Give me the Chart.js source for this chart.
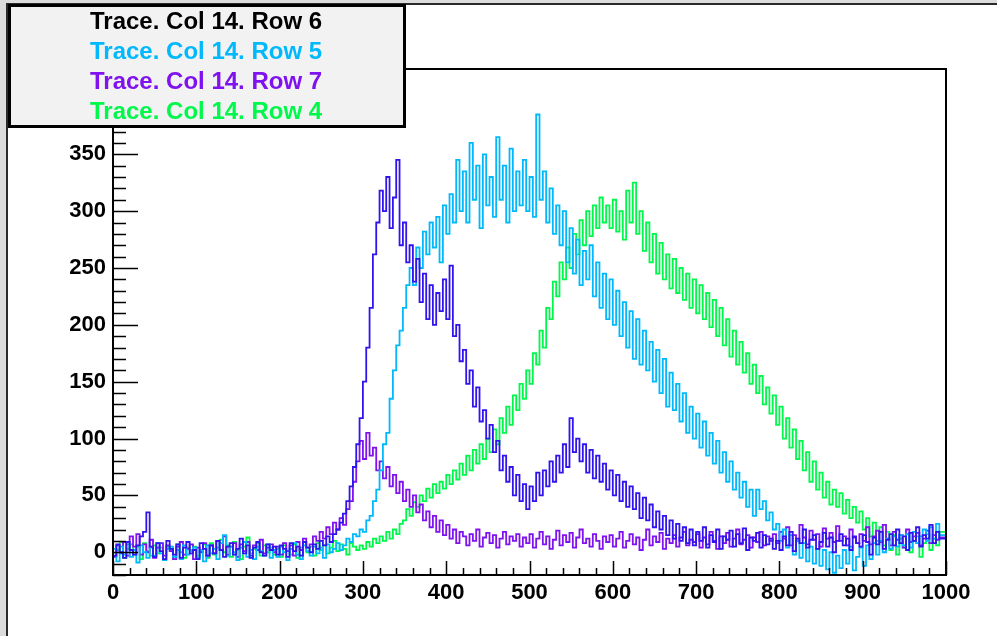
<!DOCTYPE html>
<html>
<head>
<meta charset="utf-8">
<script src="https://cdn.jsdelivr.net/npm/chart.js@4.4.0/dist/chart.umd.min.js"></script>
<style>
  html, body { margin: 0; padding: 0; background: #fff; }
  canvas { display: block; }
</style>
</head>
<body>
<canvas id="c" width="997" height="636"></canvas>
<script>
// Pulse traces, column 14, rows 4-7. Bins are 4 samples wide; values are counts.
const traceLabels = ['Trace. Col 14. Row 6', 'Trace. Col 14. Row 5', 'Trace. Col 14. Row 7', 'Trace. Col 14. Row 4'];
const lineColors = ['#3014ee', '#00b9fc', '#7f12ee', '#00f84a'];
const legendTextColors = ['#000000', '#00b9fc', '#7f12ee', '#00f84a'];

// bin low edges: 0, 4, 8, ... 996
const binWidth = 4;
const bins = Array.from({ length: 250 }, (_, i) => i * binWidth);

const row6 = [
  4,-3,7,0,-5,9,2,-2,6,14,18,35,5,-4,8,1,-6,10,3,-2,7,-5,4,9,-1,
  2,-6,8,3,-3,6,-1,10,2,-4,5,8,-2,3,12,-1,6,-5,4,9,0,-3,7,2,5,
  -2,6,3,-4,8,1,5,-3,9,4,0,7,3,10,6,14,9,16,20,26,34,45,58,75,95,
  118,150,180,215,262,290,318,300,330,285,312,345,270,290,255,270,238,258,220,245,205,235,200,228,212,
  240,205,252,190,200,168,178,148,160,128,145,115,125,100,112,88,98,72,85,62,75,50,68,45,60,
  38,58,45,70,50,72,58,80,62,85,70,95,75,118,88,100,80,95,70,90,65,85,62,78,55,
  72,50,68,45,62,40,58,38,52,30,48,28,42,22,36,20,32,15,28,12,25,10,22,8,20,
  6,18,10,22,4,15,9,20,3,14,11,19,5,16,8,21,2,13,10,17,4,15,7,12,3,
  10,2,14,6,18,1,12,8,20,4,11,15,3,9,17,5,13,0,10,16,6,12,2,14,8,
  5,15,9,-2,13,7,18,3,11,16,6,20,8,14,2,17,10,22,5,15,12,24,8,18,12
];
const row5 = [
  -6,3,-8,5,-2,7,-4,2,-9,6,0,-5,4,-3,8,-1,-7,3,5,-4,2,-6,6,-2,1,
  4,-5,2,-8,6,-1,3,-6,8,15,-3,5,0,-7,4,9,-4,2,-6,5,1,-3,7,-5,2,
  -4,5,0,-7,3,8,-2,-6,6,1,-3,5,-1,4,-5,7,0,3,8,2,6,12,9,16,14,
  20,18,28,32,45,55,72,95,105,135,160,182,195,215,235,250,235,268,250,282,262,290,268,295,255,
  305,280,315,290,345,300,335,290,360,310,340,285,350,305,330,295,365,310,340,290,355,300,335,305,345,
  300,330,295,385,310,335,290,320,280,305,270,300,255,285,245,275,235,265,240,270,225,255,215,245,205,
  240,200,230,190,220,180,212,170,205,165,195,160,185,150,178,140,170,128,158,125,148,115,140,105,128,
  100,122,92,115,85,105,78,98,70,88,62,80,55,70,48,62,40,55,32,55,38,45,28,35,20,
  25,10,20,4,15,-2,10,-5,8,-8,5,-10,3,-12,2,-15,0,-18,-3,-14,2,-10,5,-16,-4,
  4,-12,6,-6,8,-2,10,0,12,3,14,5,15,6,16,4,18,8,14,20,10,22,12,25,15
];
const row7 = [
  3,-4,6,-1,9,-3,14,5,16,-2,7,0,11,-5,4,8,-3,6,1,-6,5,9,-2,3,7,
  -6,4,0,8,-3,6,-1,10,2,14,-2,5,8,-4,7,1,9,-3,6,2,11,-1,4,7,0,
  5,-2,8,1,6,-3,9,2,12,4,7,14,10,18,12,22,16,26,20,30,24,38,45,62,80,
  98,82,105,85,92,72,80,65,75,58,68,52,62,45,55,40,50,35,42,28,36,22,32,18,28,
  15,24,12,20,8,18,14,6,16,10,20,5,13,17,8,15,4,12,18,7,14,10,16,5,13,
  8,16,4,12,18,7,14,3,11,19,6,15,9,17,4,13,20,8,12,5,16,10,3,14,9,
  15,5,12,18,4,10,16,7,13,2,11,20,6,14,9,17,3,12,8,15,5,13,18,6,11,
  9,16,4,13,7,18,10,3,14,8,17,5,12,20,7,11,15,4,13,9,18,6,14,10,16,
  8,18,12,22,6,15,10,24,13,7,19,11,16,5,21,12,17,9,23,10,14,6,20,13,8,
  16,10,22,7,14,19,9,24,12,6,18,11,15,4,20,9,14,17,6,12,19,8,15,11,13
];
const row4 = [
  6,-4,2,9,-5,3,7,-2,5,-6,8,1,-3,6,-1,4,-7,5,2,-4,7,0,-5,4,2,
  5,-3,1,7,-5,8,-2,4,11,0,6,-4,9,2,-6,5,13,-1,3,8,-3,6,0,4,-2,
  3,-4,6,1,-2,7,-5,4,9,0,5,-3,8,2,6,-1,4,10,1,7,3,-2,8,5,2,
  6,3,9,5,12,8,14,10,18,12,20,16,25,28,38,32,44,40,50,45,56,48,60,52,62,
  56,68,60,72,64,78,68,85,72,90,78,95,82,100,88,108,95,118,105,128,112,138,125,148,135,
  160,148,175,165,195,180,215,205,238,225,255,240,268,250,280,262,292,270,300,278,305,285,312,290,305,
  285,310,282,300,275,318,290,325,280,300,265,290,255,280,245,272,240,262,232,258,228,250,222,245,215,
  240,210,235,205,228,198,222,190,215,182,205,172,195,165,185,158,175,148,165,140,155,130,145,122,138,
  112,128,100,118,92,108,82,98,72,88,62,80,55,70,48,62,42,55,40,52,34,46,30,40,26,
  36,20,30,14,26,10,22,6,18,2,15,-2,12,4,16,0,10,14,-4,8,16,2,12,6,18
];
const traceValues = [row6, row5, row7, row4];

// axis ranges and labelled tick steps
const xRange = [0, 1000];
const yRange = [-20, 425];
const xLabelStep = 100, xMinorStep = 20;
const yLabelStep = 50, yMinorStep = 10;

const FONT = '"Liberation Sans", Arial, sans-serif';

function histogramPoints(values) {
  const pts = values.map((v, i) => ({ x: bins[i], y: v }));
  // close the last bin at its upper edge
  pts.push({ x: bins[bins.length - 1] + binWidth, y: values[values.length - 1] });
  return pts;
}

const rootStyle = {
  id: 'rootStyle',
  beforeDraw(chart) {
    const ctx = chart.ctx, W = chart.width, H = chart.height;
    ctx.save();
    ctx.fillStyle = '#ffffff';
    ctx.fillRect(0, 0, W, H);
    ctx.fillStyle = '#dcdcdc';
    ctx.fillRect(0, 0, 6, H);
    ctx.fillRect(0, 0, W, 3);
    ctx.fillStyle = '#2a2a2a';
    ctx.fillRect(6, 3, 2, H - 3);
    ctx.fillRect(6, 3, W - 6, 2);
    ctx.restore();
  },
  afterDatasetsDraw(chart) {
    const { ctx, chartArea: a, scales: { x, y } } = chart;
    ctx.save();
    ctx.strokeStyle = '#000';
    ctx.lineWidth = 1.5;
    ctx.beginPath();
    y.ticks.forEach(t => {
      const v = t.value;
      if (Math.abs(v % yMinorStep) > 1e-6) return;
      const py = Math.round(y.getPixelForValue(v)) + 0.5;
      const len = Math.abs(v % yLabelStep) < 1e-6 ? 25 : 13;
      ctx.moveTo(a.left, py);
      ctx.lineTo(a.left + len, py);
    });
    x.ticks.forEach(t => {
      const v = t.value;
      if (Math.abs(v % xMinorStep) > 1e-6) return;
      const px = Math.round(x.getPixelForValue(v)) + 0.5;
      const len = Math.abs(v % xLabelStep) < 1e-6 ? 14 : 7;
      ctx.moveTo(px, a.bottom);
      ctx.lineTo(px, a.bottom - len);
    });
    ctx.stroke();
    ctx.lineWidth = 2;
    ctx.strokeRect(a.left, a.top, a.right - a.left, a.bottom - a.top);
    ctx.restore();
  },
  afterDraw(chart) {
    const ctx = chart.ctx;
    ctx.save();
    ctx.fillStyle = '#f2f2f2';
    ctx.fillRect(9.5, 5.5, 395, 121);
    ctx.strokeStyle = '#000';
    ctx.lineWidth = 3;
    ctx.strokeRect(9.5, 5.5, 395, 121);
    ctx.font = 'bold 24px ' + FONT;
    ctx.textAlign = 'left';
    ctx.textBaseline = 'alphabetic';
    chart.data.datasets.forEach((ds, i) => {
      ctx.fillStyle = legendTextColors[i];
      ctx.fillText(ds.label, 90, 29 + i * 30);
    });
    ctx.restore();
  }
};

new Chart(document.getElementById('c'), {
  type: 'line',
  data: {
    datasets: traceValues.map((vals, i) => ({
      label: traceLabels[i],
      data: histogramPoints(vals),
      borderColor: lineColors[i],
      backgroundColor: lineColors[i],
      borderWidth: 1.8,
      pointRadius: 0,
      stepped: 'after',
      fill: false
    }))
  },
  options: {
    responsive: false,
    animation: false,
    devicePixelRatio: 1,
    events: [],
    layout: { padding: { top: 69, right: 51, left: 0, bottom: 0 } },
    plugins: { legend: { display: false }, tooltip: { enabled: false } },
    scales: {
      x: {
        type: 'linear',
        min: xRange[0], max: xRange[1],
        grid: { display: false, drawTicks: false },
        border: { display: false },
        ticks: {
          stepSize: xMinorStep, autoSkip: false, maxRotation: 0, padding: 5,
          color: '#000', font: { family: FONT, weight: 'bold', size: 22 },
          callback: v => (v % xLabelStep === 0 ? String(v) : '')
        },
        afterFit: s => { s.height = 61; }
      },
      y: {
        type: 'linear',
        min: yRange[0], max: yRange[1],
        grid: { display: false, drawTicks: false },
        border: { display: false },
        ticks: {
          stepSize: yMinorStep, autoSkip: false, padding: 7,
          color: '#000', font: { family: FONT, weight: 'bold', size: 22 },
          callback: v => (v >= 0 && v % yLabelStep === 0 ? String(v) : '')
        },
        afterFit: s => { s.width = 113; }
      }
    }
  },
  plugins: [rootStyle]
});
</script>
</body>
</html>
